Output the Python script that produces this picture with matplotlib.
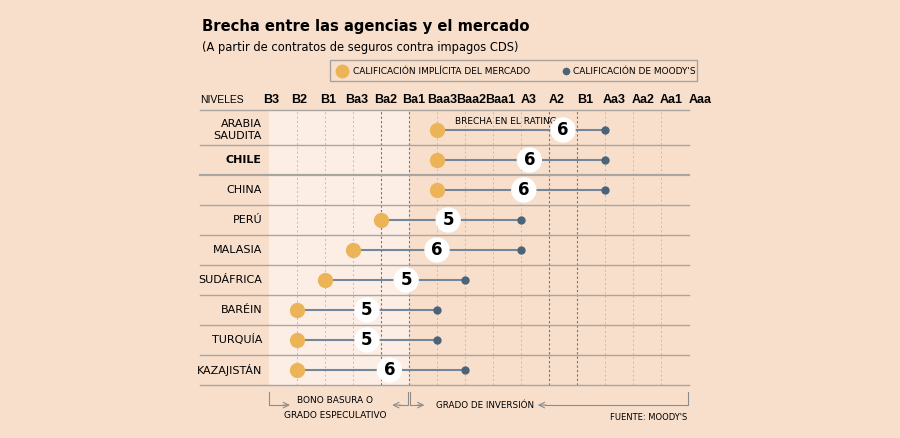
import matplotlib
matplotlib.use("Agg")
import matplotlib.pyplot as plt
from matplotlib.patches import Rectangle
from matplotlib.lines import Line2D

# datos
niveles = ["B3", "B2", "B1", "Ba3", "Ba2", "Ba1", "Baa3", "Baa2", "Baa1",
           "A3", "A2", "B1", "Aa3", "Aa2", "Aa1", "Aaa"]
paises = ["ARABIA\nSAUDITA", "CHILE", "CHINA", "PERÚ", "MALASIA", "SUDÁFRICA",
          "BARÉIN", "TURQUÍA", "KAZAJISTÁN"]
mercado = ["Baa3", "Baa3", "Baa3", "Ba2", "Ba3", "B1", "B2", "B2", "B2"]
moodys = ["Aa3", "Aa3", "Aa3", "A3", "A3", "Baa2", "Baa3", "Baa3", "Baa2"]
brecha = [6, 6, 6, 5, 6, 5, 5, 5, 6]
brecha_x = [10.5, 9.3, 9.1, 6.4, 6.0, 4.9, 3.5, 3.5, 4.3]

BG = "#F8DFCC"
LIGHT = "#FCEEE5"
ORANGE = "#EDB457"
BLUE = "#4C6478"
CONN = "#74879A"
ROWLINE = "#ABA5A0"
FONT = "DejaVu Sans"
NARROW = "Liberation Sans"

W, H = 900, 438
fig = plt.figure(figsize=(W / 100, H / 100), dpi=100, facecolor=BG)

def fx(px):
    return px / W

def fy(py):
    return 1 - py / H

# ejes: x = indice de nivel, y = fila
ax = fig.add_axes([fx(200), fy(385), fx(689) - fx(200), fy(110) - fy(385)])
ax.set_facecolor(BG)
ax.set_xlim(-69 / 28, 15)
ax.set_ylim(8.5, -20 / 30)
ax.axis("off")

# el primer B1 es el de la zona especulativa, el segundo queda tras A2
idx = {n: i for i, n in enumerate(niveles) if n != "B1"}
idx["B1"] = niveles.index("B1")
mx = [idx[m] for m in mercado]
bx = [idx[m] for m in moodys]

# zona bono basura
ax.add_patch(Rectangle((0, 8.5), 5, -(8.5 + 20 / 30), facecolor=LIGHT,
                       edgecolor="none", zorder=0))

# verticales
for i in range(1, 15):
    if i in (4, 5, 10, 11):
        ax.axvline(i, color="#77716C", lw=0.8, ls=(0, (2, 2)), zorder=1)
    else:
        ax.axvline(i, color="#C9BAAE", lw=0.7, ls=(0, (2, 2.5)), zorder=1)

# lineas de filas
for yl in [-20 / 30] + [i + 0.5 for i in range(len(paises))]:
    lw = 1.6 if yl == 1.5 else 1.0
    ax.plot([-69 / 28, 15], [yl, yl], color=ROWLINE, lw=lw, zorder=1,
            clip_on=False)

# encabezado
ax.text(-69 / 28, -1.0, "NIVELES", fontsize=7.5, family=NARROW, va="center",
        ha="left", clip_on=False)
for i, n in enumerate(niveles):
    ax.text(i * 1.0214 + 0.07, -1.0, n, fontsize=9, fontweight="bold",
            family=NARROW, ha="center", va="center", clip_on=False)

# puntos y conectores
for r, (a, b) in enumerate(zip(mx, bx)):
    ax.plot([a, b], [r, r], color=CONN, lw=1.5, zorder=2)
    ax.plot(a, r, "o", ms=11, color=ORANGE, mec="none", zorder=3)
    ax.plot(b, r, "o", ms=6, color=BLUE, mec="none", zorder=3)
    ax.text(brecha_x[r], r, str(brecha[r]), fontsize=12, fontweight="bold",
            family=FONT, ha="center", va="center", zorder=4,
            bbox=dict(boxstyle="circle,pad=0.22", fc="white", ec="none"))

for r, p in enumerate(paises):
    ax.text(-0.25, r, p, fontsize=8, family=FONT, ha="right", va="center",
            fontweight="bold" if p == "CHILE" else "normal",
            linespacing=1.25, clip_on=False)

ax.text(6.64, -0.27, "BRECHA EN EL RATING", fontsize=6.5, family=FONT,
        ha="left", va="center")

# corchetes inferiores
y0, y1 = 8.73, 9.17
gray = "#8E8B89"
arr = dict(arrowstyle="->", color=gray, lw=0.8, shrinkA=0, shrinkB=0)
ax.plot([0, 0, 0.6], [y0, y1, y1], color=gray, lw=0.8, clip_on=False)
ax.annotate("", xy=(0.75, y1), xytext=(0.5, y1), arrowprops=arr,
            annotation_clip=False)
ax.plot([4.65, 4.95, 4.95], [y1, y1, y0], color=gray, lw=0.8, clip_on=False)
ax.annotate("", xy=(4.4, y1), xytext=(4.7, y1), arrowprops=arr,
            annotation_clip=False)
ax.plot([5.05, 5.05, 5.4], [y0, y1, y1], color=gray, lw=0.8, clip_on=False)
ax.annotate("", xy=(5.55, y1), xytext=(5.3, y1), arrowprops=arr,
            annotation_clip=False)
ax.plot([9.85, 14.95, 14.95], [y1, y1, y0], color=gray, lw=0.8, clip_on=False)
ax.annotate("", xy=(9.6, y1), xytext=(9.9, y1), arrowprops=arr,
            annotation_clip=False)
ax.text(2.36, 9.0, "BONO BASURA O", fontsize=6.5, family=FONT, ha="center",
        va="center")
ax.text(2.36, 9.53, "GRADO ESPECULATIVO", fontsize=6.5, family=FONT,
        ha="center", va="center")
ax.text(7.7, y1, "GRADO DE INVERSIÓN", fontsize=6.3, family=FONT,
        ha="center", va="center")
ax.text(14.95, 9.6, "FUENTE: MOODY'S", fontsize=6, family=FONT, ha="right",
        va="center")

# titulo
fig.text(fx(202), fy(27), "Brecha entre las agencias y el mercado",
         fontsize=10.6, fontweight="bold", family=FONT, va="center")
fig.text(fx(202), fy(47), "(A partir de contratos de seguros contra impagos CDS)",
         fontsize=8.3, family=FONT, va="center")

# leyenda
fig.add_artist(Rectangle((fx(330), fy(81)), fx(697) - fx(330), fy(60) - fy(81),
                         transform=fig.transFigure, fc=BG, ec="#A8A19C", lw=1))
fig.add_artist(Line2D([fx(342)], [fy(71)], marker="o", ms=10, color=ORANGE,
                      mec="none", transform=fig.transFigure))
fig.add_artist(Line2D([fx(566)], [fy(71)], marker="o", ms=5.5, color=BLUE,
                      mec="none", transform=fig.transFigure))
fig.text(fx(353), fy(71), "CALIFICACIÓN IMPLÍCITA DEL MERCADO", fontsize=6.5,
         family=FONT, va="center")
fig.text(fx(573), fy(71), "CALIFICACIÓN DE MOODY'S", fontsize=6.5,
         family=FONT, va="center")

fig.savefig("out.png", dpi=100, facecolor=BG)
